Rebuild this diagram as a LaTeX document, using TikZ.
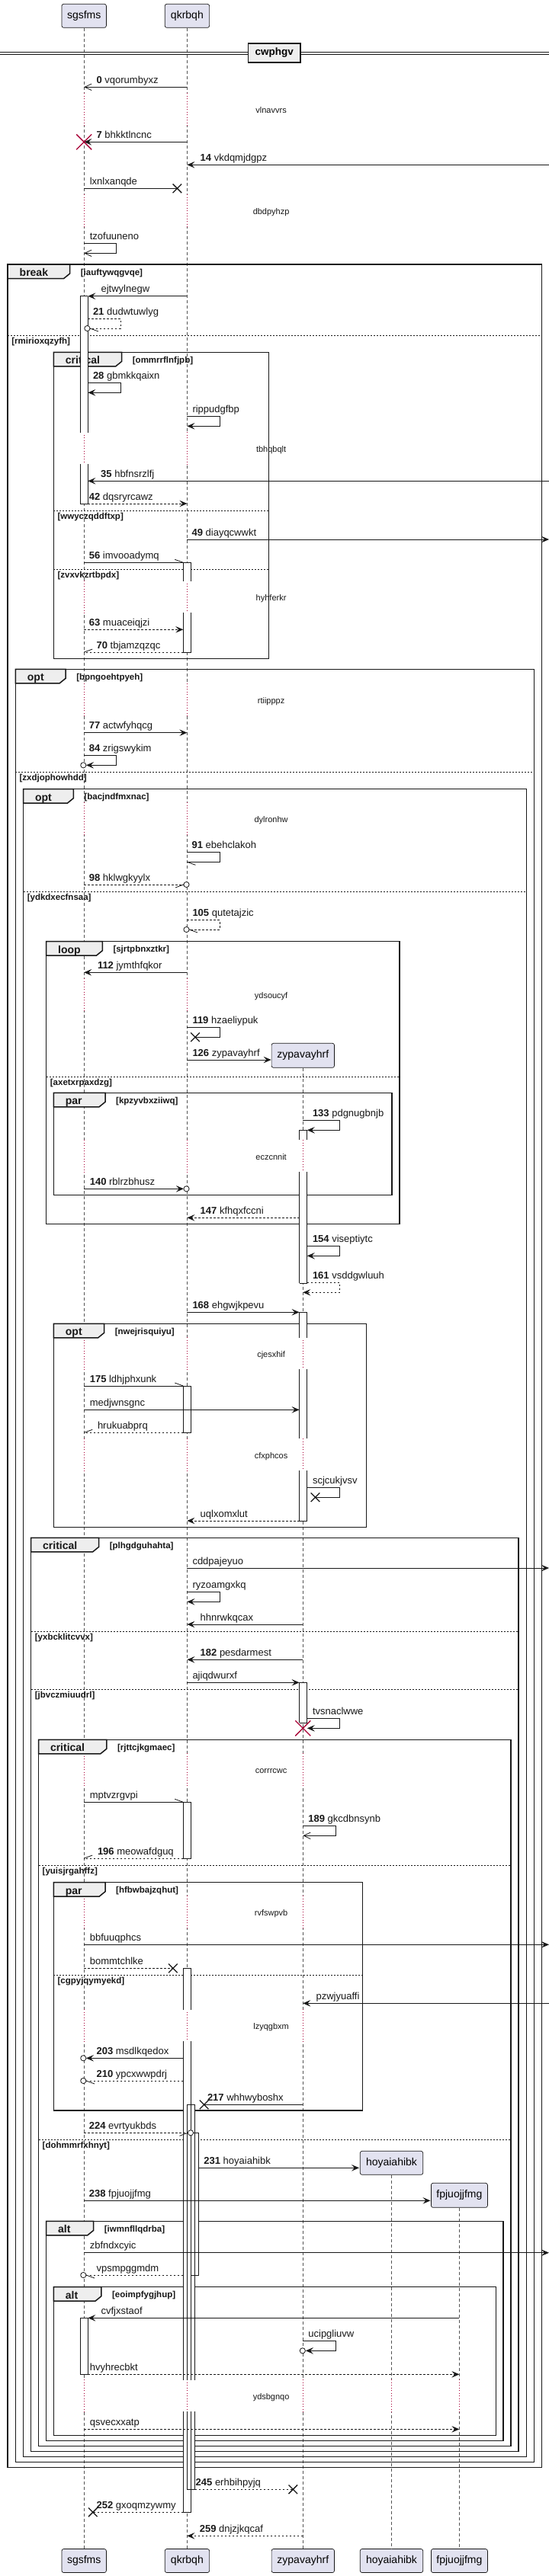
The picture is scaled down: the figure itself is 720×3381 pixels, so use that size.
\documentclass[tikz,border=0pt]{standalone}
\usepackage{fontspec}
\setmainfont{Liberation Sans}
\usetikzlibrary{arrows.meta}
\definecolor{lc}{HTML}{181818}
\definecolor{pfill}{HTML}{E2E2F0}
\definecolor{tabfill}{HTML}{EEEEEE}
\definecolor{dred}{HTML}{A80036}
\definecolor{llc}{HTML}{555555}
\newcommand\lostx[2]{\draw[lc,line width=1.3pt] (#1-5.8,#2-5.8) -- (#1+5.8,#2+5.8) (#1-5.8,#2+5.8) -- (#1+5.8,#2-5.8);}
\newcommand\killx[2]{\draw[dred,line width=1.3pt] (#1-10,#2-10) -- (#1+10,#2+10) (#1-10,#2+10) -- (#1+10,#2-10);}
\newcommand\circl[2]{\draw[msg,fill=white] (#1,#2) circle (3.6);}
\newcommand\barbU[3]{\draw[msg] (#1,#2) -- ++(#3,-4);}
\newcommand\barbD[3]{\draw[msg] (#1,#2) -- ++(#3,4);}
\newcommand\mlbl[3]{\node[lbl] at (#1,#2-5) {#3};}
\begin{document}
\begin{tikzpicture}[x=1pt,y=-1pt,
 part/.style={draw=lc,fill=pfill,line width=0.7pt,rounded corners=2.5pt,font=\fontsize{14}{16}\selectfont,inner sep=0pt},
 life/.style={draw=llc,line width=0.6pt,dash pattern=on 4pt off 3pt},
 delayline/.style={draw=dred,line width=0.7pt,dash pattern=on 1pt off 2.5pt},
 msg/.style={draw=lc,line width=0.8pt},
 dsh/.style={dash pattern=on 2.5pt off 2.5pt},
 fa/.style={-{Stealth[length=10pt,width=8.5pt,inset=4pt]}},
 oa/.style={-{Straight Barb[length=9pt,width=8.5pt]}},
 lbl/.style={anchor=base west,inner sep=0pt,font=\fontsize{13}{15}\selectfont,text=lc},
 dly/.style={anchor=base,inner sep=0pt,font=\fontsize{11}{13}\selectfont,text=lc},
 frameline/.style={draw=lc,line width=1.5pt},
 elseline/.style={draw=lc,line width=0.7pt,dash pattern=on 2pt off 2pt},
 tablbl/.style={anchor=base west,inner sep=0pt,font=\bfseries\fontsize{14}{16}\selectfont,text=lc},
 condlbl/.style={anchor=base west,inner sep=0pt,font=\bfseries\fontsize{11.5}{13}\selectfont,text=lc},
 barline/.style={draw=lc,line width=0.8pt}
]
\useasboundingbox (0,0) rectangle (720,3381);
\fill[white] (0,0) rectangle (720,3381);

% participants
\node[part,minimum width=58.4,minimum height=31] (pS) at (110.2,20.8) {sgsfms};
\node[part,minimum width=58.4,minimum height=31] (pQ) at (245.4,20.8) {qkrbqh};
\node[part,minimum width=82.4,minimum height=32] (pZ) at (397.3,1385.3) {zypavayhrf};
\node[part,minimum width=82.4,minimum height=31] (pH) at (513.5,2838.8) {hoyaiahibk};
\node[part,minimum width=74,minimum height=32] (pF) at (602.4,2881.3) {fpjuojjfmg};
\node[part,minimum width=58.4,minimum height=31] (bS) at (110.2,3361) {sgsfms};
\node[part,minimum width=58.4,minimum height=31] (bQ) at (245.4,3361) {qkrbqh};
\node[part,minimum width=82.4,minimum height=31] (bZ) at (397.3,3361) {zypavayhrf};
\node[part,minimum width=82.4,minimum height=31] (bH) at (513.5,3361) {hoyaiahibk};
\node[part,minimum width=74,minimum height=31] (bF) at (602.4,3361) {fpjuojjfmg};

% lifelines
\draw[life] (pS.south) -- (bS.north);
\draw[life] (pQ.south) -- (bQ.north);
\draw[life] (pZ.south) -- (bZ.north);
\draw[life] (pH.south) -- (bH.north);
\draw[life] (pF.south) -- (bF.north);

% delays
\foreach \d/\t in {144.3/vlnavvrs,277/dbdpyhzp,589/tbhqbqlt,784.3/hyhferkr,919.3/rtiipppz,1075/dylronhw,1306/ydsoucyf}{
  \foreach \x in {110.2,245.4}{
    \draw[white,line width=2pt] (\x,\d-22) -- (\x,\d+21);
    \draw[delayline] (\x,\d-22) -- (\x,\d+21);}
  \node[dly] at (355.6,\d+4) {\t};}
\foreach \d/\t in {1518.3/eczcnnit,1777.3/cjesxhif,1910/cfxphcos,2323.3/corrrcwc,2510/rvfswpvb,2659.3/lzyqgbxm}{
  \foreach \x in {110.2,245.4,397.3}{
    \draw[white,line width=2pt] (\x,\d-22) -- (\x,\d+21);
    \draw[delayline] (\x,\d-22) -- (\x,\d+21);}
  \node[dly] at (355.6,\d+4) {\t};}
\foreach \d/\t in {3145/ydsbgnqo}{
  \foreach \x in {110.2,245.4,397.3,513.5,602.4}{
    \draw[white,line width=2pt] (\x,\d-22) -- (\x,\d+21);
    \draw[delayline] (\x,\d-22) -- (\x,\d+21);}
  \node[dly] at (355.6,\d+4) {\t};}

% divider
\draw[lc,line width=0.9pt] (0,68.3) -- (720,68.3) (0,71) -- (720,71);
\node[draw=lc,line width=1.5pt,fill=tabfill,minimum width=68.5,minimum height=25,inner sep=0pt,font=\bfseries\fontsize{13.5}{15}\selectfont] (dv) at (359.7,69.5) {cwphgv};

% frames
\foreach \xa/\ya/\xb/\yb/\tr/\lab/\cond in {
 10.2/347/710.7/3238.3/91.7/break/{[iauftywqgvqe]},
 70.4/462.3/352.3/864.3/159.7/critical/{[ommrrflnfjpb]},
 20.4/878.3/700.5/3231.3/86.1/opt/{[bpngoehtpyeh]},
 30.6/1035.7/690.3/3224.3/96.3/opt/{[bacjndfmxnac]},
 60.7/1235.7/524.1/1606.3/134.3/loop/{[sjrtpbnxztkr]},
 70.4/1434.3/513.9/1568.7/138/par/{[kpzyvbxziiwq]},
 70.4/1737.3/480.6/2004.3/136.6/opt/{[nwejrisquiyu]},
 40.7/2018.3/680.2/3217.3/129.6/critical/{[plhgdguhahta]},
 50.5/2283.3/670/3210.3/139.8/critical/{[rjttcjkgmaec]},
 70.4/2470.7/475.5/2770/138/par/{[hfbwbajzqhut]},
 60.7/2915.3/659.8/3203.3/122.7/alt/{[iwmnfllqdrba]},
 70.4/3001.7/650.5/3196.3/132.9/alt/{[eoimpfygjhup]}}{
  \draw[frameline] (\xa,\ya) rectangle (\xb,\yb);
  \draw[frameline,fill=tabfill] (\xa,\ya) -- (\tr,\ya) -- (\tr,\ya+12) -- (\tr-8,\ya+18.5) -- (\xa,\ya+18.5) -- cycle;
  \node[tablbl] at (\xa+15.3,\ya+15.3) {\lab};
  \node[condlbl] at (\tr+14,\ya+14) {\cond};}
\foreach \xa/\xb/\y/\cond in {
 10.2/710.7/440.3/{[rmirioxqzyfh]},
 70.4/352.3/670/{[wwyczqddftxp]},
 70.4/352.3/747.3/{[zvxvkzrtbpdx]},
 20.4/700.5/1013.3/{[zxdjophowhdd]},
 30.6/690.3/1170.3/{[ydkdxecfnsaa]},
 60.7/524.1/1413.3/{[axetxrpaxdzg]},
 40.7/680.2/2141/{[yxbcklitcvvx]},
 40.7/680.2/2217/{[jbvczmiuudrl]},
 50.5/670/2448.3/{[yuisjrgahffz]},
 50.5/670/2808.3/{[dohmmrfxhnyt]},
 70.4/475.5/2592.3/{[cgpyjqymyekd]}}{
  \draw[elseline] (\xa,\y) -- (\xb,\y);
  \node[condlbl] at (\xa+5,\y+11) {\cond};}

% activation bars
\def\barlist{105.1/115.3/388.7/567.7/1/0, 105.1/115.3/609.3/661/0/1,
 240.3/250.5/738.3/762.7/1/0, 240.3/250.5/804.3/856/0/1,
 392.6/402.8/1483.3/1496.3/1/0, 392.6/402.8/1538.3/1684/0/1,
 392.6/402.8/1722.3/1755.7/1/0, 392.6/402.8/1797.3/1888.3/0/0, 392.6/402.8/1930/1996/0/1,
 240.3/250.5/1819/1880.3/1/1,
 392.6/402.8/2208.3/2261/1/1,
 240.3/250.5/2365.3/2439.3/1/1,
 240.3/250.5/2583.3/2637.7/1/0, 240.3/250.5/2679.3/3124.3/0/0, 240.3/250.5/3165/3297.3/0/1,
 245.4/255.6/2762.3/3124.3/1/0, 245.4/255.6/3165/3267.3/0/1,
 250.5/260.7/2799.3/2986/1/1,
 105.1/115.3/3042.3/3116.3/1/1}
\foreach \xa/\xb/\ya/\yb/\tp/\bt in \barlist {\fill[white] (\xa,\ya) rectangle (\xb,\yb);}
\foreach \xa/\xb/\ya/\yb/\tp/\bt in \barlist {
  \draw[barline] (\xa,\ya) -- (\xa,\yb) (\xb,\ya) -- (\xb,\yb);
  \ifnum\tp=1 \draw[barline] (\xa,\ya) -- (\xb,\ya);\fi
  \ifnum\bt=1 \draw[barline] (\xa,\yb) -- (\xb,\yb);\fi}

% messages
\draw[msg,oa] (245.4,114.3) -- (110.2,114.3); \mlbl{126.4}{114.3}{\textbf{0} vqorumbyxz}
\draw[msg,fa] (245.4,186.3) -- (110.2,186.3); \killx{110.2}{186.3} \mlbl{126.4}{186.3}{\textbf{7} bhkktlncnc}
\draw[msg,fa] (720,216.3) -- (245.4,216.3); \mlbl{262.5}{216.3}{\textbf{14} vkdqmjdgpz}
\draw[msg] (110.2,247.3) -- (232.4,247.3); \lostx{232.4}{247.3} \mlbl{117.6}{247.3}{lxnlxanqde}
\draw[msg,oa] (110.2,319.3) -- (152.8,319.3) -- (152.8,332.3) -- (110.2,332.3); \mlbl{117.6}{319.3}{tzofuuneno}
\draw[msg,fa] (245.4,388.7) -- (115.3,388.7); \mlbl{132.4}{388.7}{ejtwylnegw}
\draw[msg,dsh] (115.3,418.3) -- (157.9,418.3) -- (157.9,431) -- (118,431); \barbD{118}{431}{11} \circl{114.4}{431} \mlbl{121.8}{418.3}{\textbf{21} dudwtuwlyg}
\draw[msg,fa] (115.3,502.7) -- (157.9,502.7) -- (157.9,515.3) -- (115.3,515.3); \mlbl{121.8}{502.7}{\textbf{28} gbmkkqaixn}
\draw[msg,fa] (245.4,546.7) -- (288,546.7) -- (288,559.3) -- (245.4,559.3); \mlbl{252.3}{546.7}{rippudgfbp}
\draw[msg,fa] (720,631.3) -- (115.3,631.3); \mlbl{132}{631.3}{\textbf{35} hbfnsrzlfj}
\draw[msg,dsh,fa] (115.3,661) -- (245.4,661); \mlbl{116.7}{661}{\textbf{42} dqsryrcawz}
\draw[msg,fa] (245.4,708) -- (720,708); \mlbl{251.4}{708}{\textbf{49} diayqcwwkt}
\draw[msg] (110.2,738.3) -- (240.3,738.3); \barbU{240.3}{738.3}{-11} \mlbl{116.7}{738.3}{\textbf{56} imvooadymq}
\draw[msg,dsh,fa] (110.2,826.3) -- (240.3,826.3); \mlbl{116.7}{826.3}{\textbf{63} muaceiqjzi}
\draw[msg,dsh] (240.3,856) -- (110.2,856); \barbU{110.2}{856}{11} \mlbl{126.4}{856}{\textbf{70} tbjamzqzqc}
\draw[msg,fa] (110.2,961.7) -- (245.4,961.7); \mlbl{116.7}{961.7}{\textbf{77} actwfyhqcg}
\draw[msg,fa] (110.2,991.3) -- (152.8,991.3) -- (152.8,1004.3) -- (113,1004.3); \circl{109.3}{1004.3} \mlbl{116.7}{991.3}{\textbf{84} zrigswykim}
\draw[msg] (245.4,1118.7) -- (288,1118.7) -- (288,1131.3) -- (245.4,1131.3); \barbD{245.4}{1131.3}{11} \mlbl{251.4}{1118.7}{\textbf{91} ebehclakoh}
\draw[msg,dsh] (110.2,1161) -- (240.9,1161); \barbD{240.9}{1161}{-11} \circl{244.5}{1161} \mlbl{116.7}{1161}{\textbf{98} hklwgkyylx}
\draw[msg,dsh] (245.4,1207.7) -- (288,1207.7) -- (288,1220) -- (248.1,1220); \barbD{248.1}{1220}{11} \circl{244.5}{1220} \mlbl{252.3}{1207.7}{\textbf{105} qutetajzic}
\draw[msg,fa] (245.4,1276.3) -- (110.2,1276.3); \mlbl{127.8}{1276.3}{\textbf{112} jymthfqkor}
\draw[msg] (245.4,1348.7) -- (288,1348.7) -- (288,1361.3) -- (256,1361.3); \lostx{256}{1361.3} \mlbl{252.3}{1348.7}{\textbf{119} hzaeliypuk}
\draw[msg,fa] (245.4,1391) -- (355.6,1391); \mlbl{252.3}{1391}{\textbf{126} zypavayhrf}
\draw[msg,fa] (397.3,1470.7) -- (445.4,1470.7) -- (445.4,1483.3) -- (402.8,1483.3); \mlbl{409.8}{1470.7}{\textbf{133} pdgnugbnjb}
\draw[msg,fa] (110.2,1560.3) -- (240.9,1560.3); \circl{244.5}{1560.3} \mlbl{117.6}{1560.3}{\textbf{140} rblrzbhusz}
\draw[msg,dsh,fa] (392.6,1598.3) -- (245.4,1598.3); \mlbl{262.5}{1598.3}{\textbf{147} kfhqxfccni}
\draw[msg,fa] (402.8,1635.7) -- (445.4,1635.7) -- (445.4,1648.3) -- (402.8,1648.3); \mlbl{409.8}{1635.7}{\textbf{154} viseptiytc}
\draw[msg,dsh,fa] (402.8,1683.3) -- (445.4,1683.3) -- (445.4,1696.3) -- (397.3,1696.3); \mlbl{409.8}{1683.3}{\textbf{161} vsddgwluuh}
\draw[msg,fa] (245.4,1722.3) -- (392.6,1722.3); \mlbl{252.3}{1722.3}{\textbf{168} ehgwjkpevu}
\draw[msg] (110.2,1819) -- (240.3,1819); \barbU{240.3}{1819}{-11} \mlbl{117.6}{1819}{\textbf{175} ldhjphxunk}
\draw[msg,fa] (110.2,1850.3) -- (392.6,1850.3); \mlbl{117.6}{1850.3}{medjwnsgnc}
\draw[msg,dsh] (240.3,1880.3) -- (110.2,1880.3); \barbU{110.2}{1880.3}{11} \mlbl{127.8}{1880.3}{hrukuabprq}
\draw[msg] (402.8,1952.7) -- (445.4,1952.7) -- (445.4,1965.3) -- (413.5,1965.3); \lostx{413.5}{1965.3} \mlbl{409.8}{1952.7}{scjcukjvsv}
\draw[msg,dsh,fa] (392.6,1996) -- (245.4,1996); \mlbl{262.5}{1996}{uqlxomxlut}
\draw[msg,fa] (245.4,2058) -- (720,2058); \mlbl{252.3}{2058}{cddpajeyuo}
\draw[msg,fa] (245.4,2089.7) -- (288,2089.7) -- (288,2102.3) -- (245.4,2102.3); \mlbl{252.3}{2089.7}{ryzoamgxkq}
\draw[msg,fa] (397.3,2132) -- (245.4,2132); \mlbl{262.5}{2132}{hhnrwkqcax}
\draw[msg,fa] (397.3,2178.3) -- (245.4,2178.3); \mlbl{262.5}{2178.3}{\textbf{182} pesdarmest}
\draw[msg,fa] (245.4,2208.3) -- (392.6,2208.3); \mlbl{252.3}{2208.3}{ajiqdwurxf}
\draw[msg,fa] (402.8,2255.7) -- (445.4,2255.7) -- (445.4,2268.3) -- (402.8,2268.3); \killx{397.3}{2268.3} \mlbl{409.8}{2255.7}{tvsnaclwwe}
\draw[msg] (110.2,2365.3) -- (240.3,2365.3); \barbU{240.3}{2365.3}{-11} \mlbl{117.6}{2365.3}{mptvzrgvpi}
\draw[msg,oa] (397.3,2396.3) -- (439.9,2396.3) -- (439.9,2409.3) -- (397.3,2409.3); \mlbl{404.2}{2396.3}{\textbf{189} gkcdbnsynb}
\draw[msg,dsh] (240.3,2439) -- (110.2,2439); \barbU{110.2}{2439}{11} \mlbl{127.8}{2439}{\textbf{196} meowafdguq}
\draw[msg,fa] (110.2,2552.3) -- (720,2552.3); \mlbl{117.6}{2552.3}{bbfuuqphcs}
\draw[msg,dsh] (110.2,2583.3) -- (226.9,2583.3); \lostx{226.9}{2583.3} \mlbl{117.6}{2583.3}{bommtchlke}
\draw[msg,fa] (720,2629.3) -- (397.3,2629.3); \mlbl{414.4}{2629.3}{pzwjyuaffi}
\draw[msg,fa] (240.3,2701.3) -- (113,2701.3); \circl{109.3}{2701.3} \mlbl{126.4}{2701.3}{\textbf{203} msdlkqedox}
\draw[msg,dsh] (240.3,2731) -- (113,2731); \barbD{113}{2731}{11} \circl{109.3}{2731} \mlbl{126.4}{2731}{\textbf{210} ypcxwwpdrj}
\draw[msg] (397.3,2762.3) -- (267.6,2762.3); \lostx{267.6}{2762.3} \mlbl{271.8}{2762.3}{\textbf{217} whhwyboshx}
\draw[msg,dsh] (110.2,2799.3) -- (246.4,2799.3); \barbD{246.4}{2799.3}{-11} \circl{250}{2799.3} \mlbl{116.7}{2799.3}{\textbf{224} evrtyukbds}
\draw[msg,fa] (260.7,2845.3) -- (471,2845.3); \mlbl{267.2}{2845.3}{\textbf{231} hoyaiahibk}
\draw[msg,fa] (110.2,2888.3) -- (564.5,2888.3); \mlbl{116.7}{2888.3}{\textbf{238} fpjuojjfmg}
\draw[msg,fa] (110.2,2956.7) -- (720,2956.7); \mlbl{117.6}{2956.7}{zbfndxcyic}
\draw[msg,dsh] (240.3,2986) -- (113,2986); \barbD{113}{2986}{11} \circl{109.3}{2986} \mlbl{126.4}{2986}{vpsmpggmdm}
\draw[msg,fa] (602.4,3042.3) -- (115.3,3042.3); \mlbl{132.4}{3042.3}{cvfjxstaof}
\draw[msg,fa] (397.3,3072.3) -- (439.9,3072.3) -- (439.9,3085.3) -- (400.9,3085.3); \circl{396.8}{3085.3} \mlbl{404.2}{3072.3}{ucipgliuvw}
\draw[msg,dsh,fa] (115.3,3116.3) -- (602.4,3116.3); \mlbl{117.6}{3116.3}{hvyhrecbkt}
\draw[msg,dsh,fa] (110.2,3188.3) -- (602.4,3188.3); \mlbl{117.6}{3188.3}{qsvecxxatp}
\draw[msg,dsh] (255.6,3267.3) -- (384.3,3267.3); \lostx{384.3}{3267.3} \mlbl{256.5}{3267.3}{\textbf{245} erhbihpyjq}
\draw[msg,dsh] (240.3,3297.3) -- (121.8,3297.3); \lostx{121.8}{3297.3} \mlbl{126.4}{3297.3}{\textbf{252} gxoqmzywmy}
\draw[msg,dsh,fa] (397.3,3328.3) -- (245.4,3328.3); \mlbl{261.6}{3328.3}{\textbf{259} dnjzjkqcaf}
\end{tikzpicture}
\end{document}
